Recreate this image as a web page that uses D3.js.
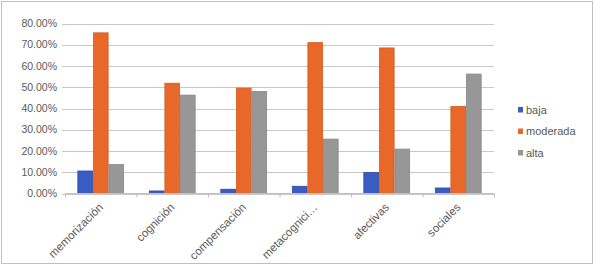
<!DOCTYPE html>
<html>
<head>
<meta charset="utf-8">
<script src="https://cdn.jsdelivr.net/npm/d3@7"></script>
<style>
  body { margin:0; background:#fff; }
  text { font-family: "Liberation Sans", Arial, sans-serif; fill:#595959; }
</style>
</head>
<body>
<svg id="chart" width="594" height="265"></svg>
<script>
var categories = ["memorización", "cognición", "compensación", "metacognición", "afectivas", "sociales"]
  , catLabels = ["memorización", "cognición", "compensación", "metacognici…", "afectivas", "sociales"]
  , seriesNames = ["baja", "moderada", "alta"]
  , baja = [10.6, 1.2, 2.0, 3.4, 9.9, 2.6]
  , moderada = [75.6, 51.9, 49.6, 71.0, 68.5, 41.0]
  , alta = [13.6, 46.3, 48.0, 25.6, 20.9, 56.2]
  , yTicks = [0, 10, 20, 30, 40, 50, 60, 70, 80]
  ;

var colors = {baja:"#3a5bc1", moderada:"#e8682a", alta:"#979797"}
  , strokes = {baja:"#2c4ba6", moderada:"#d65a1e", alta:"#878787"}
  , values = {baja:baja, moderada:moderada, alta:alta}
  , width = 594, height = 265
  ;

var svg = d3.select("#chart");

// outer frame
svg.append("rect")
  .attr("x",1.5).attr("y",1.5)
  .attr("width",width-3).attr("height",height-3)
  .attr("fill","#fff")
  .attr("stroke","#bfbfbf");

var x = d3.scaleBand().domain(categories).range([65, 494]).paddingInner(0).paddingOuter(0)
  , x1 = d3.scaleBand().domain(seriesNames).range([0, x.bandwidth()]).paddingInner(0).paddingOuter(0.8)
  , y = d3.scaleLinear().domain([0, 80]).range([193.5, 23.5]);

// grid
svg.append("g").selectAll("line")
  .data(yTicks)
  .enter().append("line")
  .attr("x1",62).attr("x2",494)
  .attr("y1",function(d){ return Math.round(y(d))+0.5; })
  .attr("y2",function(d){ return Math.round(y(d))+0.5; })
  .attr("stroke","#c8c8c8")
  .attr("stroke-width",1.2);

// y labels
svg.append("g").selectAll("text")
  .data(yTicks)
  .enter().append("text")
  .attr("x",57)
  .attr("y",function(d){ return y(d)+3.5; })
  .attr("text-anchor","end")
  .style("font-size","10.5px")
  .text(function(d){ return d.toFixed(2)+"%"; });

// bars
var groups = svg.append("g").selectAll("g")
  .data(categories)
  .enter().append("g")
  .attr("transform",function(d){ return "translate("+x(d)+",0)"; });

groups.selectAll("rect")
  .data(function(d,i){ return seriesNames.map(function(s){ return {s:s, v:values[s][i]}; }); })
  .enter().append("rect")
  .attr("x",function(d){ return x1(d.s)+0.4; })
  .attr("width",x1.bandwidth()-0.8)
  .attr("y",function(d){ return y(d.v); })
  .attr("height",function(d){ return y(0)-y(d.v); })
  .attr("fill",function(d){ return colors[d.s]; })
  .attr("stroke",function(d){ return strokes[d.s]; })
  .attr("stroke-width",0.8);

// x axis
var xAxis = svg.append("g");
xAxis.append("line")
  .attr("x1",65).attr("x2",494)
  .attr("y1",193.5).attr("y2",193.5)
  .attr("stroke","#c0c0c0");
xAxis.selectAll(".tk")
  .data(d3.range(categories.length+1))
  .enter().append("line")
  .attr("x1",function(i){ return 65.5+i*x.step(); })
  .attr("x2",function(i){ return 65.5+i*x.step(); })
  .attr("y1",193.5).attr("y2",197.5)
  .attr("stroke","#c0c0c0");
xAxis.selectAll("text")
  .data(categories)
  .enter().append("text")
  .attr("text-anchor","end")
  .attr("transform",function(d){ return "translate("+(x(d)+x.bandwidth()/2+3)+",208) rotate(-45)"; })
  .style("font-size","11.5px")
  .text(function(d,i){ return catLabels[i]; });

// legend
var legend = svg.append("g").selectAll("g")
  .data(seriesNames)
  .enter().append("g")
  .attr("transform",function(d,i){ return "translate(518,"+(111+i*21.5)+")"; });
legend.append("rect")
  .attr("x",0).attr("y",-4)
  .attr("width",5).attr("height",5.5)
  .attr("fill",function(d){ return colors[d]; });
legend.append("text")
  .attr("x",8).attr("y",2.5)
  .style("font-size","11px")
  .text(function(d){ return d; });
</script>
</body>
</html>
